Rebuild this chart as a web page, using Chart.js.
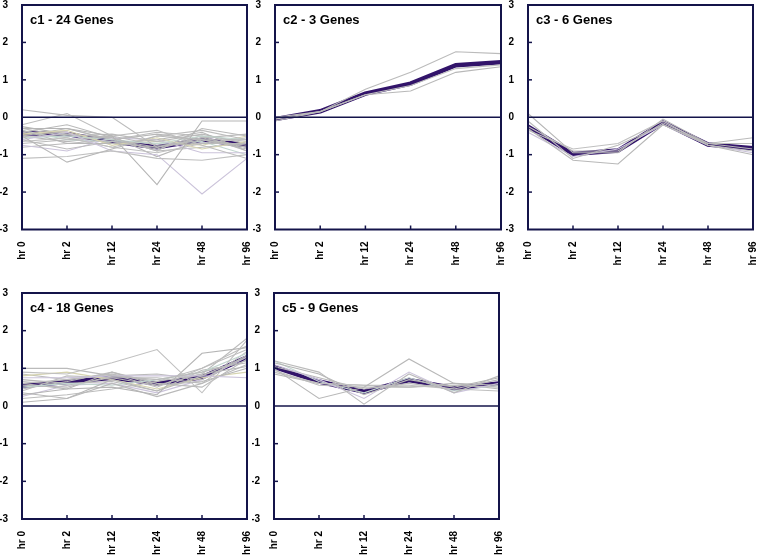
<!DOCTYPE html>
<html>
<head>
<meta charset="utf-8">
<script src="https://cdn.jsdelivr.net/npm/chart.js@4.4.1/dist/chart.umd.min.js"></script>
<style>
  body { margin: 0; background: #fff; width: 758px; height: 555px; overflow: hidden; position: relative; }
  .panel { position: absolute; }
</style>
</head>
<body>
<div class="panel" id="p1"><canvas id="c1"></canvas></div>
<div class="panel" id="p2"><canvas id="c2"></canvas></div>
<div class="panel" id="p3"><canvas id="c3"></canvas></div>
<div class="panel" id="p4"><canvas id="c4"></canvas></div>
<div class="panel" id="p5"><canvas id="c5"></canvas></div>
<script>
// time points and y range
const hours = ["hr 0", "hr 2", "hr 12", "hr 24", "hr 48", "hr 96"];
const yMin = -3;
const yMax = 3;
const panelTitles = ["c1 - 24 Genes", "c2 - 3 Genes", "c3 - 6 Genes", "c4 - 18 Genes", "c5 - 9 Genes"];

// cluster 1 - individual genes + mean
const c1Genes = [
  [0.2, 0.05, 0.0, -0.8, -0.6, -0.6],
  [-0.5, -1.2, -0.85, -0.5, -0.6, -0.8],
  [-1.1, -1.05, -0.9, -1.1, -1.15, -1.0],
  [-0.3, -0.3, -0.5, -1.8, -0.1, -0.1],
  [-0.6, -0.4, -0.9, -1.0, -2.05, -1.1],
  [-0.2, 0.1, -0.5, -0.35, -0.75, -1.1],
  [-0.4, -0.2, -0.55, -0.9, -0.3, -0.5],
  [-0.55, -0.5, -0.6, -0.7, -0.5, -0.6],
  [-0.35, -0.7, -0.7, -0.6, -0.4, -0.9],
  [-0.7, -0.6, -0.5, -0.75, -0.7, -0.7],
  [-0.45, -0.35, -0.75, -0.55, -0.85, -0.65],
  [-0.6, -0.85, -0.65, -0.85, -0.55, -0.45],
  [-0.3, -0.5, -0.45, -0.65, -0.45, -0.7],
  [-0.5, -0.3, -0.6, -0.45, -0.6, -0.85],
  [-0.65, -0.55, -0.8, -0.95, -0.7, -0.55],
  [-0.25, -0.45, -0.7, -0.8, -0.55, -0.8],
  [-0.75, -0.9, -0.55, -0.6, -0.95, -0.95],
  [-0.4, -0.55, -0.8, -0.5, -0.35, -0.6],
  [-0.55, -0.45, -0.55, -0.9, -0.8, -0.7],
  [-0.35, -0.6, -0.65, -0.7, -0.65, -1.0],
  [-0.5, -0.65, -0.5, -1.05, -0.6, -0.75],
  [-0.8, -0.7, -0.6, -0.8, -0.5, -0.65],
  [-0.45, -0.4, -0.7, -0.65, -0.75, -0.5],
  [-0.3, -0.3, -0.6, -0.4, -0.5, -0.9]
];
const c1Mean = [-0.43, -0.45, -0.65, -0.8, -0.6, -0.75];

// cluster 2
const c2Genes = [
  [0.0, 0.15, 0.75, 1.2, 1.75, 1.7],
  [-0.1, 0.15, 0.6, 0.7, 1.2, 1.35],
  [-0.05, 0.15, 0.6, 0.85, 1.3, 1.4]
];
const c2Mean = [-0.05, 0.16, 0.63, 0.9, 1.39, 1.47];

// cluster 3
const c3Genes = [
  [-0.1, -1.1, -0.75, -0.2, -0.7, -0.55],
  [-0.3, -1.15, -1.25, -0.2, -0.75, -1.0],
  [-0.35, -0.85, -0.7, -0.1, -0.75, -0.9],
  [0.1, -0.95, -0.95, -0.05, -0.7, -0.85],
  [-0.4, -1.05, -0.85, -0.2, -0.75, -0.95],
  [-0.25, -0.9, -0.9, -0.15, -0.7, -0.7]
];
const c3Mean = [-0.25, -0.98, -0.89, -0.14, -0.73, -0.83];

// cluster 4
const c4Genes = [
  [1.0, 1.0, 0.8, 0.7, 0.9, 1.2],
  [0.1, 0.2, 0.7, 0.4, 0.8, 1.3],
  [0.9, 0.85, 1.15, 1.5, 0.35, 1.75],
  [0.3, 0.45, 0.5, 0.3, 1.4, 1.55],
  [0.75, 0.75, 0.8, 0.8, 0.8, 0.75],
  [0.6, 0.7, 0.85, 0.5, 1.0, 1.6],
  [0.35, 0.2, 0.6, 0.25, 0.6, 1.1],
  [0.5, 0.6, 0.55, 0.7, 0.9, 1.4],
  [0.65, 0.55, 0.75, 0.55, 0.65, 1.0],
  [0.45, 0.65, 0.9, 0.6, 0.5, 1.25],
  [0.8, 0.9, 0.7, 0.45, 0.75, 0.9],
  [0.2, 0.3, 0.45, 0.65, 0.85, 1.8],
  [0.55, 0.5, 0.8, 0.85, 0.7, 1.35],
  [0.7, 0.6, 0.65, 0.4, 0.95, 1.15],
  [0.4, 0.8, 0.75, 0.75, 0.6, 1.45],
  [0.6, 0.45, 0.9, 0.55, 0.85, 1.05],
  [0.25, 0.55, 0.6, 0.35, 0.7, 1.3],
  [0.85, 0.7, 0.85, 0.65, 1.0, 1.5]
];
const c4Mean = [0.54, 0.64, 0.75, 0.6, 0.76, 1.29];

// cluster 5
const c5Genes = [
  [1.2, 0.9, 0.05, 0.85, 0.35, 0.8],
  [1.0, 0.2, 0.5, 1.25, 0.6, 0.55],
  [0.9, 0.6, 0.55, 0.55, 0.45, 0.4],
  [1.15, 0.85, 0.3, 0.7, 0.5, 0.75],
  [1.1, 0.7, 0.2, 0.9, 0.35, 0.6],
  [0.95, 0.55, 0.5, 0.5, 0.55, 0.5],
  [1.05, 0.75, 0.45, 0.6, 0.45, 0.7],
  [1.2, 0.65, 0.35, 0.75, 0.4, 0.55],
  [0.85, 0.6, 0.55, 0.5, 0.6, 0.45]
];
const c5Mean = [1.04, 0.65, 0.38, 0.69, 0.47, 0.6];

const navy = "#14144a";
const geneColors = ["#bbbbbb", "#b8b8b8", "#c0c0c0", "#b5b5b5", "#cbc3da", "#bdbdbd", "#b9b9b9", "#c2d6cf", "#b7b7b7", "#bababa", "#d6d4b0", "#bcbcbc"];

// box, zero line, inward ticks and panel title
const framePlugin = {
  id: "frame",
  afterDatasetsDraw(chart, args, opts) {
    const ctx = chart.ctx;
    const a = chart.chartArea;
    const xs = chart.scales.x;
    const ys = chart.scales.y;
    ctx.save();
    ctx.strokeStyle = navy;
    ctx.lineWidth = 1.5;
    const z = ys.getPixelForValue(0);
    ctx.beginPath();
    ctx.moveTo(a.left, z);
    ctx.lineTo(a.right, z);
    ctx.stroke();
    ys.ticks.forEach(t => {
      if (t.value === 0 || t.value === yMin || t.value === yMax) return;
      const py = ys.getPixelForValue(t.value);
      ctx.beginPath();
      ctx.moveTo(a.left, py);
      ctx.lineTo(a.left + 4, py);
      ctx.stroke();
    });
    for (let i = 1; i < hours.length - 1; i++) {
      const px = xs.getPixelForTick(i);
      ctx.beginPath();
      ctx.moveTo(px, a.bottom);
      ctx.lineTo(px, a.bottom - 4);
      ctx.stroke();
    }
    ctx.lineWidth = 2;
    ctx.strokeRect(a.left, a.top, a.right - a.left, a.bottom - a.top);
    ctx.fillStyle = "#000";
    ctx.font = "bold 13px 'Liberation Sans', Arial, sans-serif";
    ctx.fillText(opts.title, a.left + 8, a.top + 19);
    ctx.restore();
  }
};

function makePanel(n, left, top, plotW, plotH, genes, mean) {
  // chart.js reserves room for the edge labels, so the canvas is padded to land the plot box
  const axisW = 22, padTop = 12, padRight = 16, axisH = 38;
  const box = document.getElementById("p" + n);
  box.style.left = (left - axisW) + "px";
  box.style.top = (top - padTop) + "px";
  box.style.width = (axisW + plotW + padRight) + "px";
  box.style.height = (padTop + plotH + axisH) + "px";

  const datasets = genes.map((g, i) => ({
    data: g,
    borderColor: geneColors[i % geneColors.length],
    borderWidth: 1.1,
    pointRadius: 0,
    tension: 0
  }));
  // mean profile: dark outer stroke + magenta core
  datasets.push({ data: mean, borderColor: "#32146a", borderWidth: 4.5, pointRadius: 0, tension: 0 });
  datasets.push({ data: mean, borderColor: "#b51c6e", borderWidth: 1.8, pointRadius: 0, tension: 0 });

  const tickFont = { family: "'Liberation Sans', Arial, sans-serif", size: 10, weight: "bold" };

  new Chart(document.getElementById("c" + n), {
    type: "line",
    data: { labels: hours, datasets: datasets },
    options: {
      responsive: true,
      maintainAspectRatio: false,
      animation: false,
      layout: { padding: 0 },
      plugins: {
        legend: { display: false },
        tooltip: { enabled: false },
        frame: { title: panelTitles[n - 1] }
      },
      scales: {
        x: {
          offset: false,
          grid: { display: false },
          border: { display: false },
          ticks: { color: "#000", font: tickFont, minRotation: 90, maxRotation: 90, padding: 4 },
          afterFit(scale) { scale.height = axisH; }
        },
        y: {
          min: yMin,
          max: yMax,
          grid: { display: false },
          border: { display: false },
          ticks: { color: "#000", font: tickFont, stepSize: 1, padding: 6 },
          afterFit(scale) { scale.width = axisW; }
        }
      }
    },
    plugins: [framePlugin]
  });
}

makePanel(1, 22, 4.5, 225, 224.5, c1Genes, c1Mean);
makePanel(2, 275, 4.5, 226, 224.5, c2Genes, c2Mean);
makePanel(3, 528, 4.5, 225, 224.5, c3Genes, c3Mean);
makePanel(4, 22, 293, 225, 226, c4Genes, c4Mean);
makePanel(5, 274, 293, 225, 226, c5Genes, c5Mean);
</script>
</body>
</html>
